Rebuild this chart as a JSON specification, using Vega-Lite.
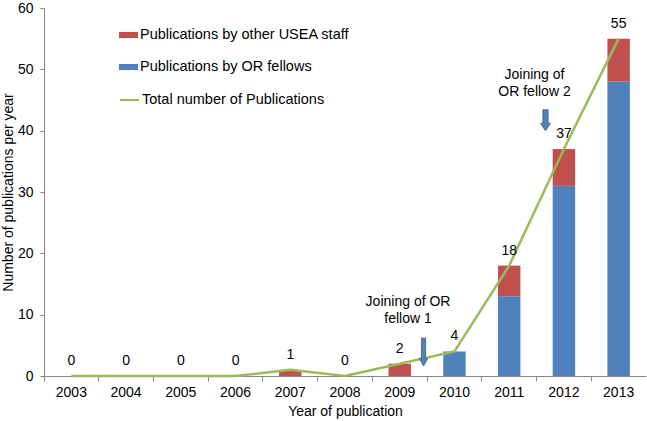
{
  "$schema": "https://vega.github.io/schema/vega-lite/v6.json",
  "width": 602,
  "height": 368,
  "autosize": {"type": "none"},
  "padding": {"left": 44, "top": 8, "right": 1, "bottom": 45},
  "background": "white",
  "config": {
    "font": "Liberation Sans",
    "view": {"stroke": null},
    "axis": {
      "grid": false,
      "domainColor": "#868686",
      "tickColor": "#868686",
      "labelColor": "#000000",
      "titleColor": "#000000",
      "labelFontSize": 14,
      "titleFontSize": 14,
      "titleFontWeight": "normal"
    },
    "legend": {"labelColor": "#000000", "padding": 0, "labelLimit": 400}
  },
  "datasets": {
    "bars": [
      {"year": 2007, "series": "Publications by other USEA staff", "count": 1},
      {"year": 2009, "series": "Publications by other USEA staff", "count": 2},
      {"year": 2010, "series": "Publications by OR fellows", "count": 4},
      {"year": 2011, "series": "Publications by OR fellows", "count": 13},
      {"year": 2011, "series": "Publications by other USEA staff", "count": 5},
      {"year": 2012, "series": "Publications by OR fellows", "count": 31},
      {"year": 2012, "series": "Publications by other USEA staff", "count": 6},
      {"year": 2013, "series": "Publications by OR fellows", "count": 48},
      {"year": 2013, "series": "Publications by other USEA staff", "count": 7}
    ],
    "totals": [
      {"year": 2003, "total": 0},
      {"year": 2004, "total": 0},
      {"year": 2005, "total": 0},
      {"year": 2006, "total": 0},
      {"year": 2007, "total": 1},
      {"year": 2008, "total": 0},
      {"year": 2009, "total": 2},
      {"year": 2010, "total": 4},
      {"year": 2011, "total": 18},
      {"year": 2012, "total": 37},
      {"year": 2013, "total": 55}
    ],
    "notes": [
      {"year": 2009, "y": 12.1, "label": ["Joining of OR", "fellow 1"], "arrowY": 3.9},
      {"year": 2012, "y": 49.0, "label": ["Joining of", "OR fellow 2"], "arrowY": 41.7}
    ]
  },
  "layer": [
    {
      "data": {"name": "bars"},
      "mark": {"type": "bar", "width": {"band": 0.41}},
      "encoding": {
        "x": {
          "field": "year",
          "type": "ordinal",
          "scale": {"paddingInner": 0, "paddingOuter": 0},
          "axis": {
            "title": "Year of publication",
            "labelAngle": 0,
            "bandPosition": 0,
            "tickSize": 5,
            "labelPadding": 4,
            "titlePadding": 5
          }
        },
        "y": {
          "field": "count",
          "type": "quantitative",
          "stack": "zero",
          "scale": {"domain": [0, 60], "nice": false},
          "axis": {
            "title": "Number of publications per year",
            "values": [0, 10, 20, 30, 40, 50, 60],
            "tickSize": 4,
            "labelPadding": 7,
            "titlePadding": 2
          }
        },
        "color": {
          "field": "series",
          "type": "nominal",
          "scale": {
            "domain": ["Publications by other USEA staff", "Publications by OR fellows"],
            "range": ["#C0504D", "#4F81BD"]
          },
          "legend": {
            "title": null,
            "orient": "none",
            "legendX": 75,
            "legendY": 17.5,
            "symbolType": "M-1,-0.32L1,-0.32L1,0.32L-1,0.32Z",
            "symbolSize": 361,
            "symbolStrokeWidth": 0,
            "labelFontSize": 14.5,
            "labelOffset": 2,
            "labelLimit": 400,
            "rowPadding": 16
          }
        },
        "order": {"field": "series", "sort": "ascending"}
      }
    },
    {
      "data": {"name": "totals"},
      "mark": {"type": "line", "strokeWidth": 2.5},
      "encoding": {
        "x": {"field": "year", "type": "ordinal"},
        "y": {"field": "total", "type": "quantitative"},
        "stroke": {
          "datum": "Total number of Publications",
          "scale": {"range": ["#9BBB59"]},
          "legend": {
            "title": null,
            "orient": "none",
            "legendX": 75,
            "legendY": 81.5,
            "symbolType": "stroke",
            "symbolSize": 361,
            "symbolStrokeWidth": 2,
            "labelFontSize": 14.5,
            "labelOffset": 2,
            "labelLimit": 400
          }
        }
      }
    },
    {
      "data": {"name": "totals"},
      "mark": {"type": "text", "dy": -15, "baseline": "middle", "fontSize": 14, "color": "#000000"},
      "encoding": {
        "x": {"field": "year", "type": "ordinal"},
        "y": {"field": "total", "type": "quantitative"},
        "text": {"field": "total", "type": "quantitative"}
      }
    },
    {
      "data": {"name": "notes"},
      "transform": [{"filter": "datum.year == 2009"}],
      "mark": {"type": "text", "xOffset": 8.3, "baseline": "middle", "align": "center", "fontSize": 14, "lineHeight": 17, "color": "#000000"},
      "encoding": {
        "x": {"field": "year", "type": "ordinal"},
        "y": {"field": "y", "type": "quantitative"},
        "text": {"field": "label"}
      }
    },
    {
      "data": {"name": "notes"},
      "transform": [{"filter": "datum.year == 2012"}],
      "mark": {"type": "text", "xOffset": -29.4, "baseline": "middle", "align": "center", "fontSize": 14, "lineHeight": 17, "color": "#000000"},
      "encoding": {
        "x": {"field": "year", "type": "ordinal"},
        "y": {"field": "y", "type": "quantitative"},
        "text": {"field": "label"}
      }
    },
    {
      "data": {"name": "notes"},
      "transform": [{"filter": "datum.year == 2009"}],
      "mark": {
        "type": "point",
        "xOffset": 23.8,
        "shape": "M-0.15,-1L0.15,-1L0.15,0.45L0.3,0.45L0,1L-0.3,0.45L-0.15,0.45Z",
        "size": 784,
        "filled": true,
        "fill": "#4F81BD",
        "stroke": "#385D8A",
        "strokeWidth": 0.8,
        "opacity": 1
      },
      "encoding": {
        "x": {"field": "year", "type": "ordinal"},
        "y": {"field": "arrowY", "type": "quantitative"}
      }
    },
    {
      "data": {"name": "notes"},
      "transform": [{"filter": "datum.year == 2012"}],
      "mark": {
        "type": "point",
        "xOffset": -18.4,
        "shape": "M-0.25,-1L0.25,-1L0.25,0.3L0.48,0.3L0,1L-0.48,0.3L-0.25,0.3Z",
        "size": 441,
        "filled": true,
        "fill": "#4F81BD",
        "stroke": "#385D8A",
        "strokeWidth": 0.8,
        "opacity": 1
      },
      "encoding": {
        "x": {"field": "year", "type": "ordinal"},
        "y": {"field": "arrowY", "type": "quantitative"}
      }
    }
  ]
}
